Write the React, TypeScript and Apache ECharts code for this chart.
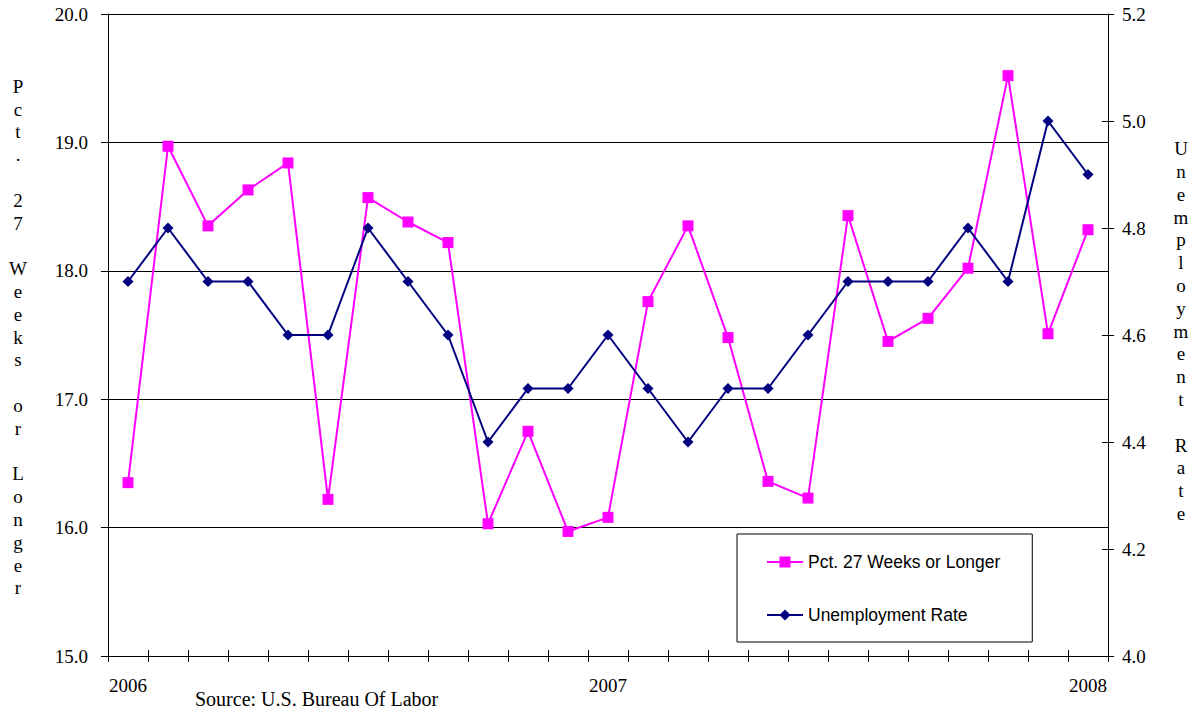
import React, { useEffect, useRef } from 'react';
import * as echarts from 'echarts';

// Monthly observations, January 2006 through January 2008
const months = [
  '2006-01', '2006-02', '2006-03', '2006-04', '2006-05', '2006-06',
  '2006-07', '2006-08', '2006-09', '2006-10', '2006-11', '2006-12',
  '2007-01', '2007-02', '2007-03', '2007-04', '2007-05', '2007-06',
  '2007-07', '2007-08', '2007-09', '2007-10', '2007-11', '2007-12',
  '2008-01',
];

// Share of the unemployed out of work 27 weeks or longer (left axis)
const longTermShare = [
  16.35, 18.97, 18.35, 18.63, 18.84, 16.22, 18.57, 18.38, 18.22, 16.03,
  16.75, 15.97, 16.08, 17.76, 18.35, 17.48, 16.36, 16.23, 18.43, 17.45,
  17.63, 18.02, 19.52, 17.51, 18.32,
];

// Headline unemployment rate (right axis)
const unemploymentRate = [
  4.7, 4.8, 4.7, 4.7, 4.6, 4.6, 4.8, 4.7, 4.6, 4.4,
  4.5, 4.5, 4.6, 4.5, 4.4, 4.5, 4.5, 4.6, 4.7, 4.7,
  4.7, 4.8, 4.7, 5.0, 4.9,
];

const leftRange = [15, 20, 1];
const rightRange = [4.0, 5.2, 0.2];

const seriesNames = ['Pct. 27 Weeks or Longer', 'Unemployment Rate'];
const leftTitle = 'Pct. 27 Weeks or Longer';
const rightTitle = 'Unemployment Rate';
const sourceNote = 'Source: U.S. Bureau Of Labor';

const SERIF = "'Liberation Serif', 'Times New Roman', serif";
const SANS = "'Liberation Sans', Arial, sans-serif";
const PINK = '#FF00FF';
const NAVY = '#000080';

const stacked = (s: string) => s.split('').join('\n');

export default function App() {
  const ref = useRef<HTMLDivElement>(null);

  useEffect(() => {
    if (!ref.current) return;
    const chart = echarts.init(ref.current, null, { renderer: 'svg' });

    const serifLabel = { fontFamily: SERIF, fontSize: 19, color: '#000' };

    chart.setOption({
      animation: false,
      backgroundColor: '#fff',
      grid: { left: 108, top: 14, width: 1000, height: 642, containLabel: false },
      legend: {
        orient: 'vertical',
        left: 737,
        top: 534,
        padding: [18, 32, 17, 29],
        itemGap: 33,
        itemWidth: 36,
        itemHeight: 14,
        backgroundColor: '#fff',
        borderColor: '#000',
        borderWidth: 1,
        textStyle: { fontFamily: SANS, fontSize: 17.5, color: '#000', lineHeight: 20 },
        data: seriesNames,
      },
      xAxis: [
        {
          type: 'category',
          data: months,
          position: 'bottom',
          boundaryGap: true,
          axisLine: { show: true, onZero: false, lineStyle: { color: '#000', width: 1 } },
          axisTick: { show: true, interval: 0, alignWithLabel: false, length: 6, lineStyle: { color: '#000' } },
          axisLabel: {
            ...serifLabel,
            margin: 20,
            interval: (_i: number, v: string) => v.endsWith('-01'),
            formatter: (v: string) => v.slice(0, 4),
          },
          splitLine: { show: false },
        },
        {
          // inner half of the crossing tick marks
          type: 'category',
          data: months,
          position: 'bottom',
          boundaryGap: true,
          axisLine: { show: false, onZero: false },
          axisTick: { show: true, inside: true, interval: 0, length: 6, lineStyle: { color: '#000' } },
          axisLabel: { show: false },
          splitLine: { show: false },
        },
      ],
      yAxis: [
        {
          type: 'value',
          position: 'left',
          min: leftRange[0],
          max: leftRange[1],
          interval: leftRange[2],
          axisLine: { show: true, lineStyle: { color: '#000', width: 1 } },
          axisTick: { show: true, length: 7, lineStyle: { color: '#000' } },
          axisLabel: { ...serifLabel, margin: 20, formatter: (v: number) => v.toFixed(1) },
          splitLine: { show: true, lineStyle: { color: '#000', width: 1 } },
        },
        {
          type: 'value',
          position: 'right',
          min: rightRange[0],
          max: rightRange[1],
          interval: rightRange[2],
          axisLine: { show: true, lineStyle: { color: '#000', width: 1 } },
          axisTick: { show: true, length: 6, lineStyle: { color: '#000' } },
          axisLabel: { ...serifLabel, margin: 14, formatter: (v: number) => v.toFixed(1) },
          splitLine: { show: false },
        },
        {
          // inner half of the right axis crossing ticks
          type: 'value',
          position: 'right',
          min: rightRange[0],
          max: rightRange[1],
          interval: rightRange[2],
          axisLine: { show: false },
          axisTick: { show: true, inside: true, length: 6, lineStyle: { color: '#000' } },
          axisLabel: { show: false },
          splitLine: { show: false },
        },
      ],
      series: [
        {
          name: seriesNames[0],
          type: 'line',
          data: longTermShare,
          xAxisIndex: 0,
          yAxisIndex: 0,
          symbol: 'rect',
          symbolSize: 11,
          lineStyle: { color: PINK, width: 2 },
          itemStyle: { color: PINK },
          z: 3,
        },
        {
          name: seriesNames[1],
          type: 'line',
          data: unemploymentRate,
          xAxisIndex: 0,
          yAxisIndex: 1,
          symbol: 'diamond',
          symbolSize: 11,
          lineStyle: { color: NAVY, width: 2 },
          itemStyle: { color: NAVY },
          z: 4,
        },
      ],
      graphic: [
        {
          type: 'text',
          x: 18,
          y: 337,
          style: {
            text: stacked(leftTitle),
            fill: '#000',
            fontFamily: SERIF,
            fontSize: 19,
            lineHeight: 22.8,
            textAlign: 'center',
            textVerticalAlign: 'middle',
          },
        },
        {
          type: 'text',
          x: 1181,
          y: 331,
          style: {
            text: stacked(rightTitle),
            fill: '#000',
            fontFamily: SERIF,
            fontSize: 19,
            lineHeight: 22.8,
            textAlign: 'center',
            textVerticalAlign: 'middle',
          },
        },
        {
          type: 'text',
          x: 195,
          y: 699,
          style: {
            text: sourceNote,
            fill: '#000',
            fontFamily: SERIF,
            fontSize: 20,
            textAlign: 'left',
            textVerticalAlign: 'middle',
          },
        },
      ],
    });

    return () => chart.dispose();
  }, []);

  return (
    <div
      ref={ref}
      style={{ position: 'absolute', left: 0, top: 0, width: 1195, height: 712, background: '#fff' }}
    />
  );
}
